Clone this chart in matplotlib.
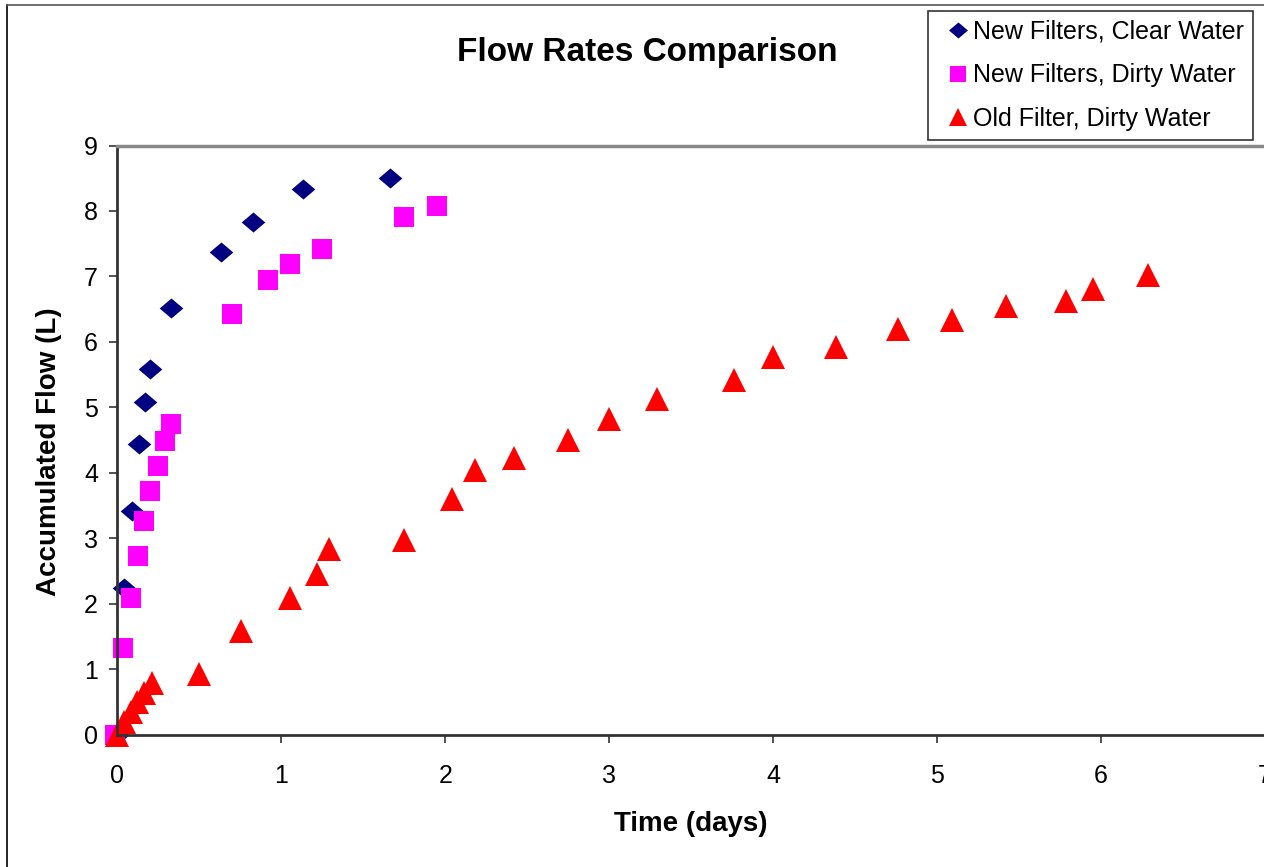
import matplotlib
matplotlib.use("Agg")
import matplotlib.pyplot as plt
from matplotlib.lines import Line2D

plt.rcParams['font.family'] = ['Liberation Sans', 'DejaVu Sans']

# Data
clear_t = [0.0, 0.04, 0.09, 0.13, 0.17, 0.20, 0.33, 0.63, 0.83, 1.13, 1.665]
clear_v = [0.0, 2.24, 3.42, 4.44, 5.08, 5.59, 6.52, 7.38, 7.83, 8.33, 8.50]

dirty_t = [-0.015, 0.035, 0.083, 0.125, 0.162, 0.20, 0.248, 0.29, 0.33, 0.70, 0.92, 1.05, 1.25, 1.75, 1.95]
dirty_v = [0.0, 1.32, 2.09, 2.73, 3.26, 3.72, 4.10, 4.48, 4.74, 6.43, 6.95, 7.19, 7.42, 7.90, 8.07]

old_t = [0.0, 0.04, 0.08, 0.12, 0.16, 0.21, 0.50, 0.755, 1.054, 1.22, 1.29, 1.75, 2.04, 2.18, 2.42,
         2.75, 3.00, 3.29, 3.76, 4.00, 4.385, 4.76, 5.09, 5.42, 5.79, 5.95, 6.29]
old_v = [0.0, 0.19, 0.35, 0.50, 0.64, 0.79, 0.92, 1.58, 2.09, 2.45, 2.83, 2.97, 3.60, 4.04, 4.23,
         4.50, 4.82, 5.12, 5.42, 5.77, 5.92, 6.19, 6.34, 6.55, 6.63, 6.81, 7.02]

labels = ["New Filters, Clear Water", "New Filters, Dirty Water", "Old Filter, Dirty Water"]
x_ticks = [0, 1, 2, 3, 4, 5, 6, 7]
y_ticks = [0, 1, 2, 3, 4, 5, 6, 7, 8, 9]

W, H = 1264, 867
fig = plt.figure(figsize=(W / 100, H / 100), dpi=100)
ax = fig.add_axes([117.4 / W, 1 - 734.5 / H, (1264.8 - 117.4) / W, (734.5 - 145.5) / H])

diamond = [(-1, 0), (0, 0.85), (1, 0), (0, -0.85), (-1, 0)]
h1, = ax.plot(clear_t, clear_v, linestyle='none', marker=diamond, markersize=17,
              color='#000080', markeredgewidth=0, clip_on=False, label=labels[0])
h2, = ax.plot(dirty_t, dirty_v, linestyle='none', marker='s', markersize=14.4,
              color='#FF00FF', markeredgewidth=0, clip_on=False, label=labels[1])
h3, = ax.plot(old_t, old_v, linestyle='none', marker='^', markersize=16.8,
              color='#FF0000', markeredgewidth=0, clip_on=False, label=labels[2])

ax.set_xlim(0, 7)
ax.set_ylim(0, 9)
ax.set_xticks(x_ticks)
ax.set_yticks(y_ticks)
ax.tick_params(axis='both', direction='out', length=6, width=1.2, color='#333333',
               labelsize=18)
ax.tick_params(axis='x', pad=15)
ax.tick_params(axis='y', pad=8)
for s in ['left', 'bottom']:
    ax.spines[s].set_color('#333333')
    ax.spines[s].set_linewidth(2)
ax.spines['top'].set_color('#888888')
ax.spines['top'].set_linewidth(2.5)
ax.spines['right'].set_visible(False)

ax.set_xlabel('Time (days)', fontsize=20, fontweight='bold', labelpad=17)
ax.set_ylabel('Accumulated Flow (L)', fontsize=20, fontweight='bold', labelpad=16)
ax.yaxis.label.set_y(0.48)

fig.text(647 / W, 1 - 53 / H, 'Flow Rates Comparison', fontsize=24, fontweight='bold',
         ha='center', va='center')

leg = fig.legend(handles=[h1, h2, h3], loc='upper left',
                 bbox_to_anchor=(928 / W, 1 - 11 / H), bbox_transform=fig.transFigure,
                 fontsize=18, frameon=True, fancybox=False, borderaxespad=0,
                 handlelength=1.67, handletextpad=-0.22, labelspacing=0.78,
                 borderpad=0.35, markerscale=0.8)
leg.get_frame().set_edgecolor('black')
leg.get_frame().set_linewidth(1.2)

# figure frame (left and top visible)
fig.add_artist(Line2D([7 / W, 7 / W], [0, 1 - 5 / H], transform=fig.transFigure,
                      color='black', linewidth=1.2))
fig.add_artist(Line2D([7 / W, 1], [1 - 5 / H, 1 - 5 / H], transform=fig.transFigure,
                      color='#555555', linewidth=1.2))

fig.savefig('out.png', dpi=100)
